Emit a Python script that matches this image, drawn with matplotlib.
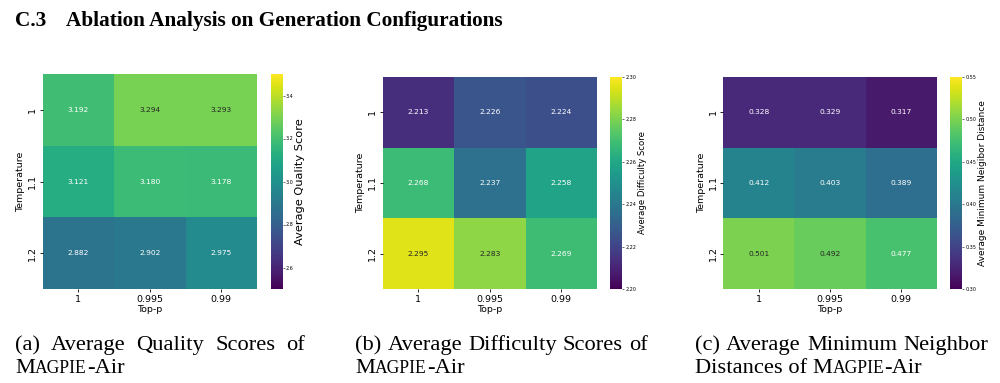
import matplotlib
matplotlib.use("Agg")
import matplotlib.pyplot as plt
import seaborn as sns
import numpy as np

# ---------------- data ----------------
temperatures = ["1", "1.1", "1.2"]
top_p = ["1", "0.995", "0.99"]
quality = [[3.192, 3.294, 3.293],
           [3.121, 3.180, 3.178],
           [2.882, 2.902, 2.975]]
difficulty = [[2.213, 2.226, 2.224],
              [2.268, 2.237, 2.258],
              [2.295, 2.283, 2.269]]
distance = [[0.328, 0.329, 0.317],
            [0.412, 0.403, 0.389],
            [0.501, 0.492, 0.477]]
quality_ticks = [2.6, 2.8, 3.0, 3.2, 3.4]
difficulty_ticks = [2.20, 2.22, 2.24, 2.26, 2.28, 2.30]
distance_ticks = [0.30, 0.35, 0.40, 0.45, 0.50, 0.55]

W, H = 1000, 383
fig = plt.figure(figsize=(W / 100, H / 100), dpi=100)


def rect(x0, y0, x1, y1):
    return [x0 / W, 1 - y1 / H, (x1 - x0) / W, (y1 - y0) / H]


panels = [
    dict(data=quality, vmin=2.5, vmax=3.5, ticks=quality_ticks, fmt="{:.1f}",
         label="Average Quality Score", ax=(42.5, 74, 257, 289),
         cax=(271, 74, 282.5, 289), lsize=8.2, lpad=1.0),
    dict(data=difficulty, vmin=2.20, vmax=2.30, ticks=difficulty_ticks, fmt="{:.2f}",
         label="Average Difficulty Score", ax=(382.5, 77, 597, 289),
         cax=(610, 77, 622, 289), lsize=6.1, lpad=1.0),
    dict(data=distance, vmin=0.30, vmax=0.55, ticks=distance_ticks, fmt="{:.2f}",
         label="Average Minimum Neigibor Distance", ax=(723, 77, 937, 289),
         cax=(950, 77, 962, 289), lsize=6.5, lpad=1.0),
]

for p in panels:
    ax = fig.add_axes(rect(*p["ax"]))
    cax = fig.add_axes(rect(*p["cax"]))
    sns.heatmap(np.array(p["data"]), ax=ax, cbar_ax=cax, cmap="viridis",
                vmin=p["vmin"], vmax=p["vmax"], annot=True, fmt=".3f",
                annot_kws={"fontsize": 5.4},
                xticklabels=top_p, yticklabels=temperatures)
    ax.set_xlabel("Top-p", fontsize=6.8, labelpad=1)
    ax.set_ylabel("Temperature", fontsize=6.8, labelpad=2)
    ax.tick_params(labelsize=6.8, length=2.5, width=0.6, pad=1.5)
    plt.setp(ax.get_yticklabels(), rotation=90, va="center")
    plt.setp(ax.get_xticklabels(), rotation=0)
    cb = ax.collections[0].colorbar
    cb.set_ticks(p["ticks"])
    cb.set_ticklabels([p["fmt"].format(t) for t in p["ticks"]])
    cb.ax.tick_params(labelsize=3.5, length=1.5, width=0.4, pad=1)
    cb.set_label(p["label"], fontsize=p["lsize"], labelpad=p["lpad"])

# ---------------- title ----------------
serif = "Liberation Serif"
fig.text(15 / W, 1 - 26 / H, "C.3", fontsize=15.3, fontweight="bold", family=serif)
fig.text(66 / W, 1 - 26 / H, "Ablation Analysis on Generation Configurations",
         fontsize=15.3, fontweight="bold", family=serif)

# ---------------- captions ----------------
fig.canvas.draw()
renderer = fig.canvas.get_renderer()
CAP = 16.2
SC = CAP * 0.78


def width_px(t):
    return t.get_window_extent(renderer).width


def place_pieces(x_px, y_px, pieces):
    """pieces: list of (text, size)"""
    x = x_px
    for s, size in pieces:
        t = fig.text(x / W, 1 - y_px / H, s, fontsize=size, family=serif)
        x += width_px(t)
    return x


def justify(x0, x1, y_px, words):
    texts = [fig.text(0, 1 - y_px / H, w, fontsize=CAP, family=serif) for w in words]
    ws = [width_px(t) for t in texts]
    gap = (x1 - x0 - sum(ws)) / (len(words) - 1)
    x = x0
    for t, w in zip(texts, ws):
        t.set_x(x / W)
        x += w + gap


magpie = [("M", CAP), ("AGPIE", SC), ("-Air", CAP)]
y1, y2 = 350, 373
justify(15, 305, y1, ["(a)", "Average", "Quality", "Scores", "of"])
place_pieces(15, y2, magpie)
justify(355, 648, y1, ["(b)", "Average", "Difficulty", "Scores", "of"])
place_pieces(355, y2, magpie)
justify(695, 988, y1, ["(c)", "Average", "Minimum", "Neighbor"])
place_pieces(695, y2, [("Distances of ", CAP)] + magpie)

fig.savefig("out.png", dpi=100)
